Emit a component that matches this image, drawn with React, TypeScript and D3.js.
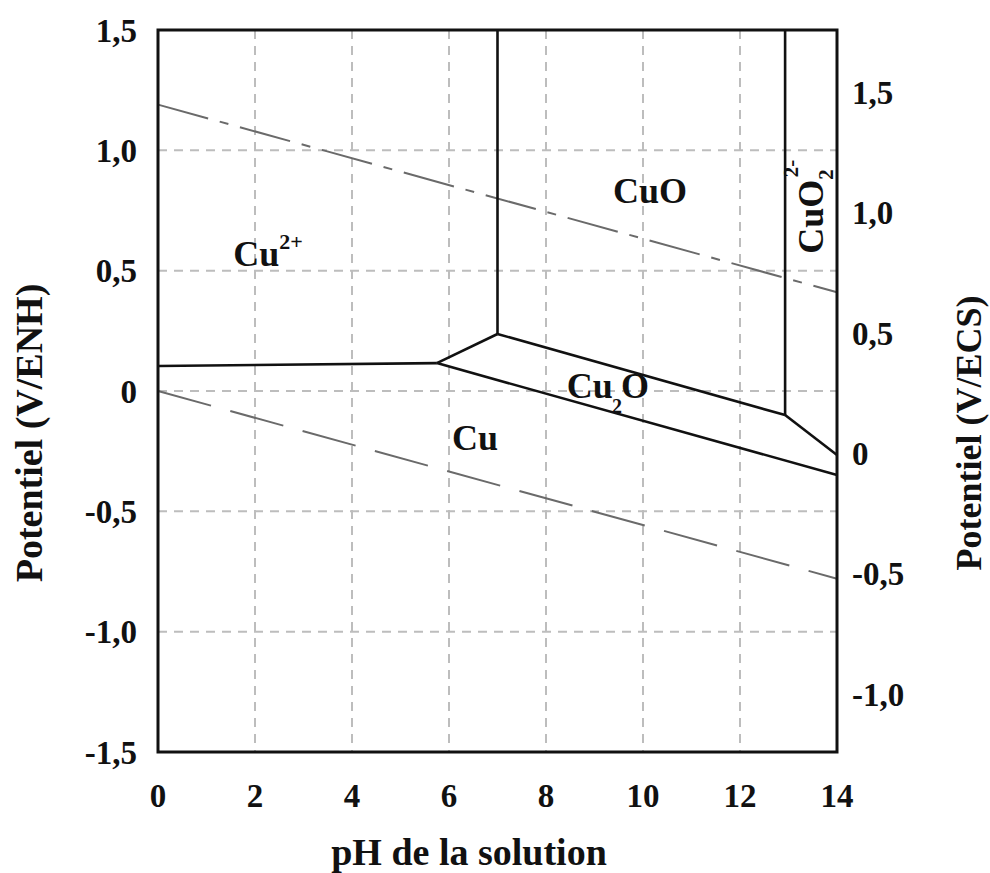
import React from "react";
import * as d3 from "d3";

const W = 990;
const H = 873;

const phTicks = [0, 2, 4, 6, 8, 10, 12, 14];
const enhTicks = [-1.5, -1.0, -0.5, 0, 0.5, 1.0, 1.5];
const ecsTicks = [-1.0, -0.5, 0, 0.5, 1.0, 1.5];
const ecsOffset = 0.26;

// phase boundaries [pH, E (V/ENH)]
const cu2ToCu: [number, number][] = [[0, 0.104], [5.75, 0.116]];
const cu2ToCu2O: [number, number][] = [[5.75, 0.116], [7.0, 0.237]];
const cu2ToCuO: [number, number][] = [[7.0, 0.237], [7.0, 1.5]];
const cuOToCu2O: [number, number][] = [[7.0, 0.237], [12.93, -0.1]];
const cuOToCuO2: [number, number][] = [[12.93, -0.1], [12.93, 1.5]];
const cu2OToCuO2: [number, number][] = [[12.93, -0.1], [14, -0.266]];
const cu2OToCu: [number, number][] = [[5.75, 0.116], [14, -0.349]];
const boundaries = [cu2ToCu, cu2ToCu2O, cu2ToCuO, cuOToCu2O, cuOToCuO2, cu2OToCuO2, cu2OToCu];

// water stability lines
const o2Line: [number, number][] = [[0, 1.19], [14, 0.41]];
const h2Line: [number, number][] = [[0, 0], [14, -0.78]];

const fmt = (v: number) => (v === 0 ? "0" : v.toFixed(1).replace(".", ","));

export default function App() {
  const left = 158, right = 837, top = 30, bottom = 752;
  const x = d3.scaleLinear().domain([0, 14]).range([left, right]);
  const y = d3.scaleLinear().domain([-1.5, 1.5]).range([bottom, top]);
  const yR = d3.scaleLinear().domain([-1.5 + ecsOffset, 1.5 + ecsOffset]).range([bottom, top]);
  const line = d3.line<[number, number]>().x((d) => x(d[0])).y((d) => y(d[1]));
  const font = "'Liberation Serif', 'Times New Roman', serif";
  const midY = (top + bottom) / 2 + 42;

  return (
    <svg width={W} height={H} style={{ position: "absolute", left: 0, top: 0, background: "#fff" }} fontFamily={font} fontWeight="bold">
      <rect x={0} y={0} width={W} height={H} fill="#fff" />
      {/* grid */}
      {enhTicks.slice(1, -1).map((t) => (
        <line key={"gy" + t} x1={left} x2={right} y1={y(t)} y2={y(t)} stroke="#bdbdbd" strokeWidth={2} strokeDasharray="9,7" />
      ))}
      {phTicks.slice(1, -1).map((t) => (
        <line key={"gx" + t} x1={x(t)} x2={x(t)} y1={top} y2={bottom} stroke="#bdbdbd" strokeWidth={2} strokeDasharray="9,7" />
      ))}
      {/* water lines */}
      <path d={line(o2Line) || ""} fill="none" stroke="#6a6a6a" strokeWidth={2} strokeDasharray="52,12,9,12" />
      <path d={line(h2Line) || ""} fill="none" stroke="#6a6a6a" strokeWidth={2} strokeDasharray="55,20" />
      {/* boundaries */}
      {boundaries.map((b, i) => (
        <path key={"b" + i} d={line(b) || ""} fill="none" stroke="#111" strokeWidth={2.6} strokeLinejoin="round" />
      ))}
      {/* frame */}
      <rect x={left} y={top} width={right - left} height={bottom - top} fill="none" stroke="#111" strokeWidth={3} />
      {/* left ticks */}
      {enhTicks.map((t) => (
        <text key={"ly" + t} x={137} y={y(t)} dy="0.35em" textAnchor="end" fontSize={33} fill="#111">{fmt(t)}</text>
      ))}
      {/* right ticks */}
      {ecsTicks.map((t) => (
        <text key={"ry" + t} x={852} y={yR(t)} dy="0.35em" textAnchor="start" fontSize={33} fill="#111">{fmt(t)}</text>
      ))}
      {/* bottom ticks */}
      {phTicks.map((t) => (
        <text key={"bx" + t} x={x(t)} y={807} textAnchor="middle" fontSize={33} fill="#111">{t}</text>
      ))}
      {/* axis titles */}
      <text x={469} y={865} textAnchor="middle" fontSize={38} fill="#111">pH de la solution</text>
      <text transform={`translate(42,${midY}) rotate(-90)`} textAnchor="middle" fontSize={38} fill="#111">Potentiel (V/ENH)</text>
      <text transform={`translate(981,${midY}) rotate(-90)`} textAnchor="middle" fontSize={36} fill="#111">Potentiel (V/ECS)</text>
      {/* region labels */}
      <text x={x(1.55)} y={y(0.52)} fontSize={36} fill="#111">
        Cu<tspan dy={-17} fontSize={22}>2+</tspan>
      </text>
      <text x={x(9.38)} y={y(0.78)} fontSize={36} fill="#111">CuO</text>
      <text x={x(8.43)} y={y(-0.03)} fontSize={36} fill="#111">
        Cu<tspan dx={-1} dy={15} fontSize={20}>2</tspan><tspan dx={-1} dy={-15}>O</tspan>
      </text>
      <text x={x(6.06)} y={y(-0.245)} fontSize={36} fill="#111">Cu</text>
      <text transform={`translate(${x(13.71)},${y(0.57)}) rotate(-90)`} fontSize={36} fill="#111">
        CuO<tspan dy={10} fontSize={21}>2</tspan><tspan dx={-8} dy={-35} fontSize={21}>2-</tspan>
      </text>
    </svg>
  );
}
